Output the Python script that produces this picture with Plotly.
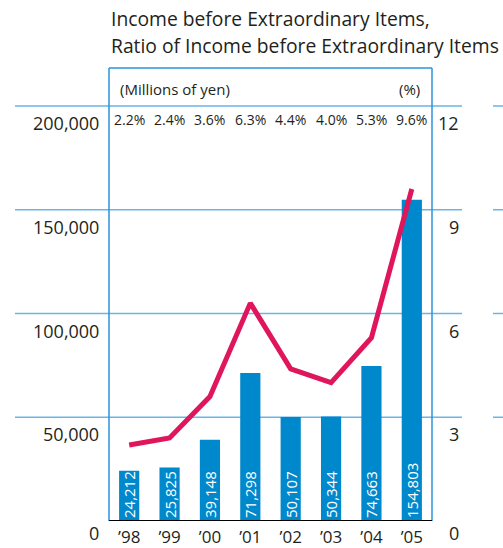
import plotly.graph_objects as go

# Fiscal years, income (millions of yen) and ratio (%)
years = ["\u201998", "\u201999", "\u201900", "\u201901", "\u201902", "\u201903", "\u201904", "\u201905"]
income = [24212, 25825, 39148, 71298, 50107, 50344, 74663, 154803]
ratio = [2.2, 2.4, 3.6, 6.3, 4.4, 4.0, 5.3, 9.6]

left_ticks = [0, 50000, 100000, 150000, 200000]
right_ticks = [0, 3, 6, 9, 12]

FONT = "Open Sans"
BAR_BLUE = "#0088cc"
LINE_RED = "#e0165c"
GRID_BLUE = "#6ab4e6"
BOX_BLUE = "#2b93d8"
TEXT = "#231f20"

W, H = 503, 548
ML, MR, MT, MB = 109, 71, 68, 27
PW = W - ML - MR
PH = H - MT - MB


def px_to_paper_x(px):
    return (px - ML) / PW


def px_to_paper_y(py):
    return (H - MB - py) / PH


fig = go.Figure()

fig.add_trace(go.Bar(
    x=years, y=income, width=0.5,
    marker=dict(color=BAR_BLUE, line=dict(width=0)),
    texttemplate="%{y:,}", textposition="inside", insidetextanchor="start",
    textangle=-90, constraintext="none",
    textfont=dict(family=FONT, size=15, color="white"),
    yaxis="y", showlegend=False, hoverinfo="skip",
))

fig.add_trace(go.Scatter(
    x=years, y=ratio, mode="lines",
    line=dict(color=LINE_RED, width=5),
    yaxis="y2", showlegend=False, hoverinfo="skip",
))

shapes = []
# horizontal guides that run past the framed area
for v in left_ticks[1:]:
    shapes.append(dict(type="line", xref="paper", yref="y",
                       x0=px_to_paper_x(15), x1=px_to_paper_x(462), y0=v, y1=v,
                       line=dict(color=GRID_BLUE, width=1.5), layer="below"))
    shapes.append(dict(type="line", xref="paper", yref="y",
                       x0=px_to_paper_x(493), x1=px_to_paper_x(505), y0=v, y1=v,
                       line=dict(color=GRID_BLUE, width=1.5), layer="below"))
# frame around the plot
shapes.append(dict(type="line", xref="paper", yref="paper", x0=0, x1=0, y0=0, y1=1,
                   line=dict(color=BOX_BLUE, width=1.5), layer="below"))
shapes.append(dict(type="line", xref="paper", yref="paper", x0=1, x1=1, y0=0, y1=1,
                   line=dict(color=BOX_BLUE, width=1.5), layer="below"))
shapes.append(dict(type="line", xref="paper", yref="paper", x0=0, x1=1, y0=1, y1=1,
                   line=dict(color=BOX_BLUE, width=1.5), layer="below"))
# baseline
shapes.append(dict(type="line", xref="paper", yref="y", x0=0, x1=1, y0=0, y1=0,
                   line=dict(color="black", width=2), layer="above"))

annotations = []
# titles
annotations.append(dict(text="Income before Extraordinary Items,", xref="paper", yref="paper",
                        x=0, y=px_to_paper_y(18), xanchor="left", yanchor="middle",
                        showarrow=False, font=dict(family=FONT, size=19.3, color=TEXT)))
annotations.append(dict(text="Ratio of Income before Extraordinary Items", xref="paper", yref="paper",
                        x=0, y=px_to_paper_y(46), xanchor="left", yanchor="middle",
                        showarrow=False, font=dict(family=FONT, size=19.3, color=TEXT)))
# unit labels
annotations.append(dict(text="(Millions of yen)", xref="paper", yref="paper",
                        x=px_to_paper_x(118), y=px_to_paper_y(89),
                        xanchor="left", yanchor="middle", showarrow=False,
                        font=dict(family=FONT, size=15, color=TEXT)))
annotations.append(dict(text="(%)", xref="paper", yref="paper",
                        x=px_to_paper_x(422), y=px_to_paper_y(89),
                        xanchor="right", yanchor="middle", showarrow=False,
                        font=dict(family=FONT, size=15, color=TEXT)))
# ratio values along the top
for yr, r in zip(years, ratio):
    annotations.append(dict(text=f"{r:.1f}%", xref="x", yref="paper", x=yr,
                            y=px_to_paper_y(119),
                            xanchor="center", yanchor="middle", showarrow=False,
                            font=dict(family=FONT, size=14, color=TEXT)))
# scale labels sit just under their guide lines
for v in left_ticks:
    annotations.append(dict(text=f"{v:,}", xref="paper", yref="y", x=px_to_paper_x(101), y=v,
                            xanchor="right", yanchor="middle", yshift=-12 if v == 0 else -17,
                            showarrow=False, font=dict(family=FONT, size=18, color=TEXT)))
for v in right_ticks:
    annotations.append(dict(text=str(v), xref="paper", yref="y2", x=px_to_paper_x(461), y=v,
                            xanchor="right", yanchor="middle", yshift=-12 if v == 0 else -17,
                            showarrow=False, font=dict(family=FONT, size=18, color=TEXT)))

y_top = PH * 50000 / 103.75
y2_top = PH * 3 / 103.75

fig.update_layout(
    width=W, height=H,
    margin=dict(l=ML, r=MR, t=MT, b=MB, pad=0, autoexpand=False),
    paper_bgcolor="white", plot_bgcolor="white",
    font=dict(family=FONT, color=TEXT),
    xaxis=dict(type="category", range=[-0.5, 7.5], showgrid=False, zeroline=False,
               showline=False, ticks="", automargin=False,
               tickfont=dict(family=FONT, size=17, color=TEXT), ticklabelstandoff=4),
    yaxis=dict(range=[0, y_top], showgrid=False, zeroline=False, showline=False,
               showticklabels=False, ticks="", automargin=False),
    yaxis2=dict(range=[0, y2_top], overlaying="y", side="right", showgrid=False,
                zeroline=False, showline=False, showticklabels=False, ticks="",
                automargin=False),
    shapes=shapes, annotations=annotations, bargap=0.5,
)

fig.write_html("out.html")
